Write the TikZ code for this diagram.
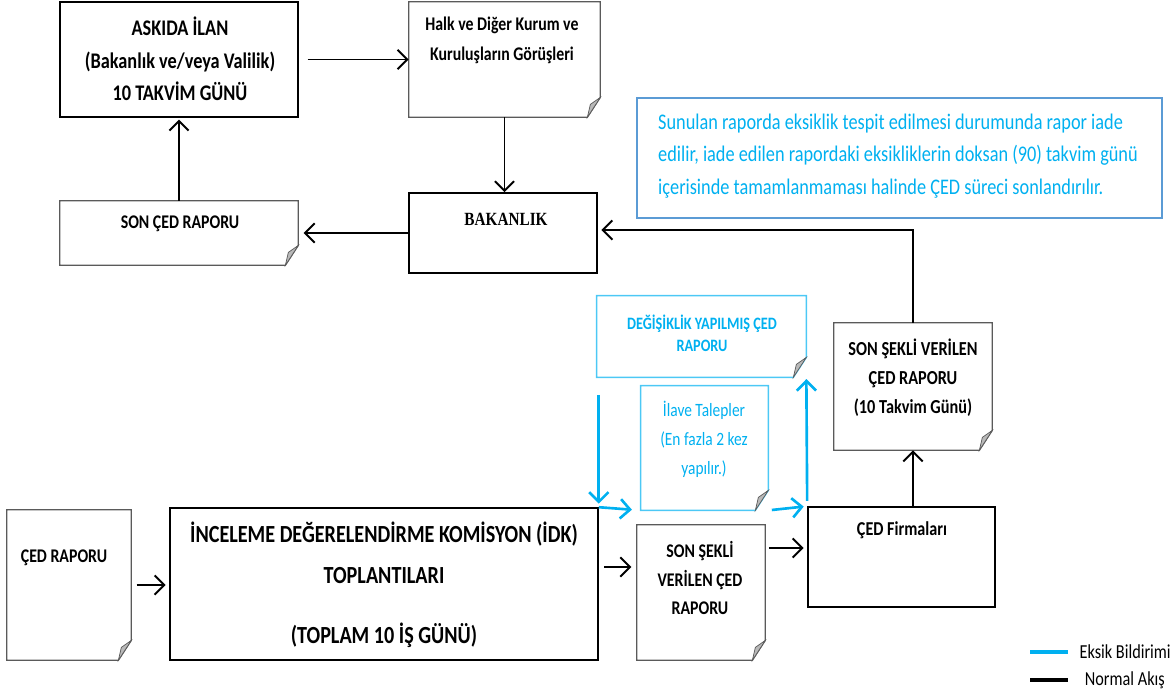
\documentclass[tikz,border=0pt]{standalone}
\usepackage{fontspec}
\setmainfont[FakeStretch=0.82]{Carlito}
\newfontfamily\bakfont[FakeStretch=0.82]{Liberation Serif}
\usetikzlibrary{arrows.meta, positioning, fit, calc}
\definecolor{eksik}{RGB}{0,176,240}
\definecolor{notline}{RGB}{91,155,213}
\definecolor{docline}{RGB}{90,90,90}
\definecolor{fold}{RGB}{185,185,185}

% paper sheet with a folded corner round a fitted node
\newcommand\docframe[2]{%
  \draw[#2] (#1.north west) -- (#1.north east) -- ($(#1.south east)+(0,-20)$)
    -- ($(#1.south east)+(-13,0)$) -- (#1.south west) -- cycle;
  \filldraw[fill=fold, draw=docline, line width=0.4pt] ($(#1.south east)+(0,-20)$)
    -- ($(#1.south east)+(-13,0)$) -- ($(#1.south east)+(-10,-13)$) -- cycle;
}

\begin{document}
\begin{tikzpicture}[
    x=0.02cm, y=-0.02cm,
    box/.style={rectangle, draw, line width=0.9pt, inner sep=0pt},
    sheet/.style={rectangle, inner sep=0pt},
    txt/.style={align=center, font=\bfseries\fontsize{12.8}{18.5}\selectfont},
    smalltxt/.style={align=center, font=\bfseries\fontsize{11}{17}\selectfont},
    bluetxt/.style={align=center, text=eksik, font=\fontsize{10.7}{16.5}\selectfont},
    arrow/.style={-{Straight Barb[length=5.5pt,width=11pt]}, line width=1.1pt},
    bluearrow/.style={arrow, eksik, line width=1.5pt}
]
\useasboundingbox (0,0) rectangle (1174,697);

% Upper loop
\node[box, fit={(60,2) (298,117)}] (askida) {};
\node[txt, font=\bfseries\fontsize{12.7}{18.5}\selectfont] (askida_txt) at (180,59) {ASKIDA İLAN\\(Bakanlık ve/veya Valilik)\\10 TAKVİM GÜNÜ};

\node[sheet, fit={(409,2) (600,117)}] (halk) {};
\docframe{halk}{docline, line width=0.7pt}
\node[smalltxt] (halk_txt) at (502,40) {Halk ve Diğer Kurum ve\\Kuruluşların Görüşleri};

\node[box, fit={(409,193) (597,273)}] (bakanlik) {};
\node[font=\bakfont\bfseries\fontsize{10.6}{12}\selectfont] (bakanlik_txt) at (506,219) {BAKANLIK};

\node[sheet, fit={(60,201) (298,265)}] (sonced) {};
\docframe{sonced}{docline, line width=0.7pt}
\node[smalltxt] (sonced_txt) at (180,224) {SON ÇED RAPORU};

% Note
\node[rectangle, draw=notline, line width=0.8pt, fit={(637,98) (1162,218)}, inner sep=0pt] (note) {};
\node[align=left, anchor=west, text=eksik, font=\fontsize{12.7}{18.5}\selectfont] (note_txt) at (652,156)
  {Sunulan raporda eksiklik tespit edilmesi durumunda rapor iade\\edilir, iade edilen rapordaki eksikliklerin doksan (90) takvim günü\\içerisinde tamamlanmaması halinde ÇED süreci sonlandırılır.};

% Revision loop
\node[sheet, fit={(597,296) (806,377)}] (degisik) {};
\docframe{degisik}{eksik!70, line width=0.8pt}
\node[bluetxt, font=\bfseries\fontsize{9.9}{12.5}\selectfont] (degisik_txt) at (702,333) {DEĞİŞİKLİK YAPILMIŞ ÇED\\RAPORU};

\node[sheet, fit={(641,386) (768,510)}] (ilave) {};
\docframe{ilave}{eksik!70, line width=0.8pt}
\node[bluetxt] (ilave_txt) at (704,439) {İlave Talepler\\(En fazla 2 kez\\yapılır.)};

\node[sheet, fit={(834,323) (992,450)}] (sonsekli) {};
\docframe{sonsekli}{docline, line width=0.7pt}
\node[txt, font=\bfseries\fontsize{11.3}{16.5}\selectfont] (sonsekli_txt) at (913,378) {SON ŞEKLİ VERİLEN\\ÇED RAPORU\\(10 Takvim Günü)};

\node[box, fit={(808,507) (995,607)}] (firma) {};
\node[txt, font=\bfseries\fontsize{11.2}{14}\selectfont] (firma_txt) at (902,530) {ÇED Firmaları};

% Lower row
\node[sheet, fit={(7,510) (131,660)}] (cedrap) {};
\docframe{cedrap}{docline, line width=0.7pt}
\node[smalltxt] (cedrap_txt) at (64,558) {ÇED RAPORU};

\node[box, fit={(170,508) (598,660)}] (idk) {};
\node[txt, font=\bfseries\fontsize{14}{23.3}\selectfont] (idk_txt) at (384,585)
  {İNCELEME DEĞERELENDİRME KOMİSYON (İDK)\\TOPLANTILARI\\[10.8pt](TOPLAM 10 İŞ GÜNÜ)};

\node[sheet, fit={(637,525) (765,660)}] (sonsekli2) {};
\docframe{sonsekli2}{docline, line width=0.7pt}
\node[smalltxt, font=\bfseries\fontsize{11}{16}\selectfont] (sonsekli2_txt) at (700,578) {SON ŞEKLİ\\VERİLEN ÇED\\RAPORU};

% Normal flow
\draw[arrow, shorten <=5pt] (askida.east) -- (askida.east -| halk.west);
\draw[arrow] (halk.south) -- (halk.south |- bakanlik.north);
\draw[arrow, shorten >=3pt] (bakanlik.west) -- (bakanlik.west -| sonced.east);
\draw[arrow, shorten >=1pt] (sonced.north) -- (sonced.north |- askida.south);
\draw[arrow, shorten >=2pt] (sonsekli.north) |- (bakanlik.east |- 0,230);
\draw[arrow] (firma.north -| sonsekli.south) -- (sonsekli.south);
\draw[arrow, shorten <=3pt, shorten >=2pt] (cedrap.east) -- (cedrap.east -| idk.west);
\draw[arrow, shorten <=3pt, shorten >=3pt] (idk.east |- 0,567) -- (sonsekli2.west |- 0,567);
\draw[arrow, shorten <=2pt, shorten >=2pt] (sonsekli2.east |- 0,548) -- (firma.west |- 0,548);

% Eksik bildirimi
\draw[bluearrow, shorten <=10pt, shorten >=2pt] (degisik.south west -| idk.north east) -- (idk.north east);
\draw[bluearrow, shorten >=5pt] (idk.north east) -- (ilave.south west);
\draw[bluearrow, shorten <=2pt, shorten >=2pt] (ilave.south east) -- (firma.north west);
\draw[bluearrow, shorten <=3pt, shorten >=1pt] (firma.north west) -- (degisik.south east);

% Legend
\coordinate (leg_eksik) at (1030,652);
\coordinate (leg_normal) at (1030,680);
\draw[eksik, line width=2.5pt] (leg_eksik) -- ++(38,0) node[right, text=black, font=\fontsize{11.3}{12}\selectfont, xshift=2pt] (leg_eksik_txt) {Eksik Bildirimi};
\draw[black, line width=2.5pt] (leg_normal) -- ++(38,0) node[right, font=\fontsize{11.3}{12}\selectfont, xshift=5pt] (leg_normal_txt) {Normal Akış};

\end{tikzpicture}
\end{document}
